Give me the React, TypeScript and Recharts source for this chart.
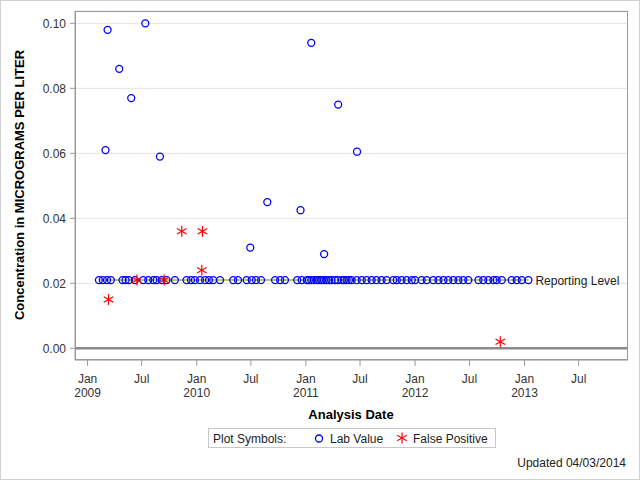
import React from 'react'
import { ScatterChart, Scatter, XAxis, YAxis, CartesianGrid, ReferenceLine } from 'recharts'

const REPORTING_LEVEL = 0.021

// lab values above the reporting level
const detectDates = [
  '2009-03-02', '2009-03-09', '2009-04-17', '2009-05-27', '2009-07-13', '2009-08-31',
  '2010-06-29', '2010-08-25', '2010-12-14', '2011-01-19', '2011-03-03', '2011-04-19', '2011-06-21',
]
const detectValues = [0.061, 0.098, 0.086, 0.077, 0.1, 0.059, 0.031, 0.045, 0.0425, 0.094, 0.029, 0.075, 0.0605]

// lab values reported at the reporting level
const reportingDates = [
  '2009-02-08', '2009-02-21', '2009-03-07', '2009-03-20', '2009-04-28', '2009-05-08', '2009-05-19', '2009-06-08',
  '2009-07-06', '2009-07-23', '2009-08-09', '2009-08-20', '2009-09-06', '2009-09-22', '2009-10-20',
  '2009-11-28', '2009-12-13', '2009-12-26', '2010-01-12', '2010-01-29', '2010-02-11', '2010-02-25', '2010-03-20',
  '2010-05-03', '2010-05-19', '2010-06-17', '2010-07-04', '2010-07-18', '2010-08-04',
  '2010-09-20', '2010-10-07', '2010-10-23', '2010-12-03', '2010-12-18', '2011-01-04',
  '2011-01-11', '2011-01-19', '2011-01-28', '2011-02-06', '2011-02-14', '2011-02-22', '2011-03-02', '2011-03-11',
  '2011-03-19', '2011-03-27', '2011-04-08', '2011-04-18', '2011-05-01', '2011-05-08', '2011-05-17', '2011-05-25',
  '2011-06-03', '2011-06-20', '2011-07-07', '2011-07-23', '2011-08-09', '2011-08-25', '2011-09-11', '2011-09-28',
  '2011-10-20', '2011-11-01', '2011-11-17', '2011-12-04', '2011-12-21', '2012-01-01', '2012-01-23', '2012-02-09',
  '2012-03-02', '2012-03-19', '2012-04-05', '2012-04-21', '2012-05-08', '2012-05-25', '2012-06-10', '2012-06-27',
  '2012-07-31', '2012-08-16', '2012-09-02', '2012-09-19', '2012-09-30', '2012-10-17', '2012-11-19', '2012-12-06',
  '2012-12-23', '2013-01-14',
]

const falsePosDates = ['2009-03-12', '2009-06-15', '2009-09-14', '2009-11-12', '2010-01-18', '2010-01-20', '2012-10-12']
const falsePosValues = [0.015, 0.021, 0.021, 0.036, 0.024, 0.036, 0.002]

const xTickDates = [
  '2009-01-01', '2009-07-01', '2010-01-01', '2010-07-01', '2011-01-01',
  '2011-07-01', '2012-01-01', '2012-07-01', '2013-01-01', '2013-07-01',
]
const xDomainDates = ['2008-11-20', '2013-12-13']
const yTicks = [0, 0.02, 0.04, 0.06, 0.08, 0.1]

const toMs = (s: string) => Date.parse(s + 'T00:00:00Z')

const labData = [
  ...detectDates.map((d, i) => ({ t: toMs(d), v: detectValues[i] })),
  ...reportingDates.map(d => ({ t: toMs(d), v: REPORTING_LEVEL })),
]
const fpData = falsePosDates.map((d, i) => ({ t: toMs(d), v: falsePosValues[i] }))
const reportStart = Math.min(...reportingDates.map(toMs))
const reportEnd = Math.max(...reportingDates.map(toMs))

const FONT = '"Liberation Sans", Arial, sans-serif'
const FRAME = '#9a9a9a'

function LabCircle(props: any) {
  return <circle cx={props.cx} cy={props.cy} r={3.5} fill="none" stroke="#0000ff" strokeWidth={1.3} />
}

function Star({ cx, cy, r = 5.5 }: { cx: number; cy: number; r?: number }) {
  const dx = r * Math.cos(Math.PI / 6)
  const dy = r * Math.sin(Math.PI / 6)
  return (
    <g stroke="#ff0000" strokeWidth={1.2}>
      <line x1={cx} y1={cy - r} x2={cx} y2={cy + r} />
      <line x1={cx - dx} y1={cy - dy} x2={cx + dx} y2={cy + dy} />
      <line x1={cx - dx} y1={cy + dy} x2={cx + dx} y2={cy - dy} />
    </g>
  )
}

function DateTick({ x, y, payload }: any) {
  const d = new Date(payload.value)
  const isJan = d.getUTCMonth() === 0
  return (
    <text x={x} y={y} textAnchor="middle" fontSize={12} fill="#333" fontFamily={FONT}>
      <tspan x={x} dy={14.5}>{isJan ? 'Jan' : 'Jul'}</tspan>
      {isJan && <tspan x={x} dy={14.5}>{d.getUTCFullYear()}</tspan>}
    </text>
  )
}

function ReportLabel({ viewBox }: any) {
  return (
    <text x={viewBox.x + viewBox.width + 7} y={viewBox.y} dy={4.5} fontSize={12} fill="#222" fontFamily={FONT}>
      Reporting Level
    </text>
  )
}

export default function App() {
  return (
    <div
      style={{
        position: 'absolute', left: 0, top: 0, width: 640, height: 480,
        boxSizing: 'border-box', border: '1px solid #d0d0d0', background: '#fff', fontFamily: FONT,
      }}
    >
      <div style={{ position: 'absolute', left: -1, top: -1 }}>
        <ScatterChart width={640} height={480} margin={{ top: 11, right: 12, bottom: 70, left: 15 }}>
          <CartesianGrid vertical={false} stroke="#e3e3e3" />
          <XAxis
            type="number"
            dataKey="t"
            domain={xDomainDates.map(toMs)}
            ticks={xTickDates.map(toMs)}
            interval={0}
            allowDataOverflow
            height={50}
            tick={<DateTick />}
            tickSize={6}
            tickMargin={2}
            stroke={FRAME}
          />
          <YAxis
            type="number"
            dataKey="v"
            domain={[-0.0036, 0.1038]}
            ticks={yTicks}
            interval={0}
            allowDataOverflow
            width={60}
            tickSize={5}
            tickMargin={4}
            tickFormatter={(v: number) => v.toFixed(2)}
            tick={{ fill: '#333', fontSize: 12, fontFamily: FONT }}
            stroke={FRAME}
          />
          <ReferenceLine y={0} stroke="#8a8a8a" strokeWidth={2.5} />
          <ReferenceLine
            segment={[{ x: reportStart, y: REPORTING_LEVEL }, { x: reportEnd, y: REPORTING_LEVEL }]}
            stroke="#9ab83c"
            strokeWidth={1.5}
            label={<ReportLabel />}
          />
          <Scatter data={labData} shape={<LabCircle />} isAnimationActive={false} />
          <Scatter data={fpData} shape={(p: any) => <Star cx={p.cx} cy={p.cy} />} isAnimationActive={false} />
        </ScatterChart>
      </div>

      <svg width={640} height={480} style={{ position: 'absolute', left: -1, top: -1, pointerEvents: 'none' }}>
        <rect x={75.5} y={11.5} width={552} height={348} fill="none" stroke={FRAME} />
        <text
          x={0} y={0} transform="translate(24,185) rotate(-90)" textAnchor="middle"
          fontSize={13} fontWeight="bold" fill="#000" fontFamily={FONT}
        >
          Concentration in MICROGRAMS PER LITER
        </text>
        <text x={351} y={419} textAnchor="middle" fontSize={13} fontWeight="bold" fill="#000" fontFamily={FONT}>
          Analysis Date
        </text>
        <rect x={208.5} y={428.5} width={287} height={19} fill="#fff" stroke="#c8c8c8" />
        <text x={213} y={443} fontSize={12} fill="#222" fontFamily={FONT}>Plot Symbols:</text>
        <circle cx={319} cy={438.5} r={3.5} fill="none" stroke="#0000ff" strokeWidth={1.3} />
        <text x={330} y={443} fontSize={12} fill="#222" fontFamily={FONT}>Lab Value</text>
        <Star cx={402} cy={438} />
        <text x={413} y={443} fontSize={12} fill="#222" fontFamily={FONT}>False Positive</text>
        <text x={626} y={467} textAnchor="end" fontSize={12} fill="#222" fontFamily={FONT}>Updated 04/03/2014</text>
      </svg>
    </div>
  )
}
